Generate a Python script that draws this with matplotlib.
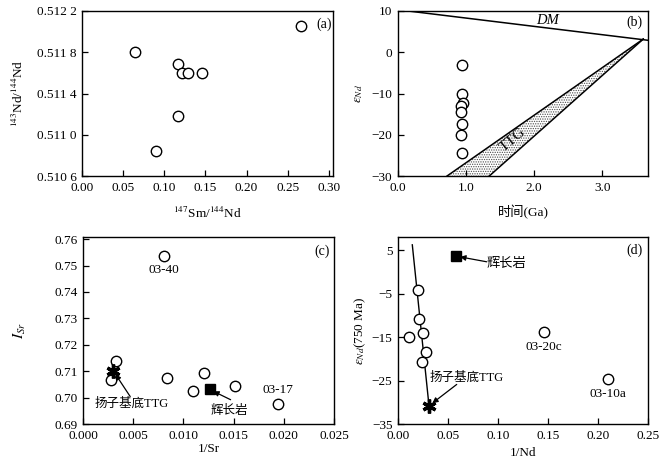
import numpy as np
import matplotlib
matplotlib.use("Agg")
import matplotlib.pyplot as plt

plt.rcParams['font.family'] = ['Liberation Serif', 'Noto Sans CJK SC']
plt.rcParams['mathtext.fontset'] = 'stix'
plt.rcParams['font.size'] = 9.5
plt.rcParams['hatch.linewidth'] = 0.6

# (a) 147Sm/144Nd vs 143Nd/144Nd
sm_nd = [0.064, 0.117, 0.122, 0.129, 0.146, 0.117, 0.090, 0.266]
nd_ratio = [0.51180, 0.51169, 0.51160, 0.51160, 0.51160, 0.51118, 0.51084, 0.51205]
a_yticks = [0.5106, 0.5110, 0.5114, 0.5118, 0.5122]
a_ylabels = ["0.510 6", "0.511 0", "0.511 4", "0.511 8", "0.512 2"]
a_xticks = [0.00, 0.05, 0.10, 0.15, 0.20, 0.25, 0.30]

# (b) eps_Nd evolution
b_time = [0.94, 0.94, 0.95, 0.92, 0.92, 0.94, 0.93, 0.94]
b_eps = [-3.1, -10.0, -12.4, -13.0, -14.4, -17.4, -20.0, -24.5]
dm_t = [0.0, 3.67]
dm_eps = [10.3, 2.9]
ttg_upper_t = [0.72, 3.6]
ttg_upper_eps = [-30.0, 3.2]
ttg_lower_t = [1.34, 3.6]
ttg_lower_eps = [-30.0, 3.2]

# (c) 1/Sr vs Isr
c_inv_sr = [0.0081, 0.0033, 0.0028, 0.0084, 0.0110, 0.0121, 0.0151, 0.0194]
c_isr = [0.7537, 0.7139, 0.7067, 0.7076, 0.7026, 0.7092, 0.7045, 0.6975]
c_ttg = (0.0030, 0.7102)
c_gabbro = (0.0126, 0.7031)

# (d) 1/Nd vs eps_Nd(750 Ma)
d_inv_nd = [0.020, 0.021, 0.025, 0.011, 0.028, 0.024, 0.146, 0.210]
d_eps = [-4.3, -10.9, -14.1, -15.1, -18.4, -20.8, -13.8, -24.7]
d_ttg = (0.031, -30.8)
d_gabbro = (0.058, 3.6)
mix_x = [0.0143, 0.031]
mix_y = [6.2, -30.8]

fig = plt.figure(figsize=(6.63, 4.66), dpi=100)
ax_a = fig.add_axes([0.1237, 0.6223, 0.3786, 0.3541])
ax_b = fig.add_axes([0.6003, 0.6223, 0.3771, 0.3541])
ax_c = fig.add_axes([0.1252, 0.0901, 0.3786, 0.4013])
ax_d = fig.add_axes([0.6003, 0.0901, 0.3771, 0.4013])

circ = dict(marker='o', ls='none', mfc='white', mec='black', ms=7.5, mew=1.0)

for ax in (ax_a, ax_b, ax_c, ax_d):
    ax.tick_params(direction='in', length=4, width=0.9, top=False, right=False, pad=4)
    for s in ax.spines.values():
        s.set_linewidth(1.0)

# (a)
ax_a.plot(sm_nd, nd_ratio, **circ)
ax_a.set_xlim(0, 0.305)
ax_a.set_ylim(0.5106, 0.5122)
ax_a.set_xticks(a_xticks)
ax_a.set_xticklabels([f"{v:.2f}" for v in a_xticks])
ax_a.set_yticks(a_yticks)
ax_a.set_yticklabels(a_ylabels)
ax_a.set_xlabel(r"$^{147}$Sm/$^{144}$Nd")
ax_a.set_ylabel(r"$^{143}$Nd/$^{144}$Nd")
ax_a.xaxis.set_label_coords(0.5, -0.18)
ax_a.yaxis.set_label_coords(-0.223, 0.5)
ax_a.text(0.294, 0.51207, "(a)", ha='center', va='center', fontsize=10)

# (b)
ax_b.fill(ttg_upper_t + ttg_lower_t[::-1], ttg_upper_eps + ttg_lower_eps[::-1],
          facecolor='white', edgecolor='0.3', hatch='.......', linewidth=0)
ax_b.plot(ttg_upper_t, ttg_upper_eps, color='black', lw=1.1)
ax_b.plot(ttg_lower_t, ttg_lower_eps, color='black', lw=1.1)
ax_b.plot(dm_t, dm_eps, color='black', lw=1.1)
ax_b.plot(b_time, b_eps, **circ)
ax_b.set_xlim(0, 3.67)
ax_b.set_ylim(-30, 10)
ax_b.set_xticks([0, 1, 2, 3])
ax_b.set_xticklabels(["0.0", "1.0", "2.0", "3.0"])
ax_b.set_yticks([-30, -20, -10, 0, 10])
ax_b.set_xlabel("时间(Ga)")
ax_b.set_ylabel(r"$\varepsilon_{Nd}$")
ax_b.xaxis.set_label_coords(0.5, -0.176)
ax_b.yaxis.set_label_coords(-0.13, 0.5)
ax_b.text(2.2, 7.6, "DM", style='italic', ha='center', va='center', fontsize=10.5)
ax_b.text(1.68, -21.2, "TTG", rotation=40, ha='center', va='center', fontsize=11)
ax_b.text(3.47, 7.2, "(b)", ha='center', va='center', fontsize=10)

# (c)
ax_c.plot(c_inv_sr, c_isr, **circ)
ax_c.plot(*c_ttg, marker=(6, 2, 0), color='black', ms=10, mew=2.4, ls='none')
ax_c.plot(*c_gabbro, marker='s', color='black', ms=7, ls='none')
ax_c.set_xlim(0, 0.025)
ax_c.set_ylim(0.69, 0.7608)
ax_c.set_xticks([0, 0.005, 0.010, 0.015, 0.020, 0.025])
ax_c.set_xticklabels(["0.000", "0.005", "0.010", "0.015", "0.020", "0.025"])
ax_c.set_yticks([0.69, 0.70, 0.71, 0.72, 0.73, 0.74, 0.75, 0.76])
ax_c.set_yticklabels(["0.69", "0.70", "0.71", "0.72", "0.73", "0.74", "0.75", "0.76"])
ax_c.set_xlabel("1/Sr")
ax_c.set_ylabel(r"$I_{Sr}$", fontsize=11)
ax_c.xaxis.set_label_coords(0.5, -0.10)
ax_c.yaxis.set_label_coords(-0.22, 0.5)
ax_c.text(0.0081, 0.7482, "03-40", ha='center', va='center')
ax_c.text(0.0194, 0.7027, "03-17", ha='center', va='center')
arrow = dict(arrowstyle='-|>', color='black', lw=0.9, mutation_scale=8, shrinkA=0, shrinkB=3)
ax_c.annotate("", xy=c_ttg, xytext=(0.0047, 0.7004), arrowprops=arrow)
ax_c.text(0.0048, 0.6977, "扬子基底TTG", ha='center', va='center', fontsize=9)
ax_c.annotate("", xy=c_gabbro, xytext=(0.0147, 0.6992), arrowprops=arrow)
ax_c.text(0.0146, 0.6948, "辉长岩", ha='center', va='center', fontsize=9)
ax_c.text(0.0238, 0.7554, "(c)", ha='center', va='center', fontsize=10)

# (d)
ax_d.plot(mix_x, mix_y, color='black', lw=1.0)
ax_d.plot(d_inv_nd, d_eps, **circ)
ax_d.plot(*d_ttg, marker=(6, 2, 0), color='black', ms=10, mew=2.4, ls='none')
ax_d.plot(*d_gabbro, marker='s', color='black', ms=7, ls='none')
ax_d.set_xlim(0, 0.25)
ax_d.set_ylim(-35, 8)
ax_d.set_xticks([0, 0.05, 0.10, 0.15, 0.20, 0.25])
ax_d.set_xticklabels(["0.00", "0.05", "0.10", "0.15", "0.20", "0.25"])
ax_d.set_yticks([-35, -25, -15, -5, 5])
ax_d.set_xlabel("1/Nd")
ax_d.set_ylabel(r"$\varepsilon_{Nd}$(750 Ma)")
ax_d.xaxis.set_label_coords(0.5, -0.123)
ax_d.yaxis.set_label_coords(-0.12, 0.5)
ax_d.annotate("", xy=d_gabbro, xytext=(0.0887, 2.3), arrowprops=arrow)
ax_d.text(0.1087, 1.9, "辉长岩", ha='center', va='center', fontsize=9.5)
ax_d.annotate("", xy=d_ttg, xytext=(0.0587, -25.9), arrowprops=arrow)
ax_d.text(0.0687, -24.3, "扬子基底TTG", ha='center', va='center', fontsize=9)
ax_d.text(0.146, -17.2, "03-20c", ha='center', va='center')
ax_d.text(0.210, -28.2, "03-10a", ha='center', va='center')
ax_d.text(0.236, 5.0, "(d)", ha='center', va='center', fontsize=10)

fig.savefig("out.png", dpi=100)
